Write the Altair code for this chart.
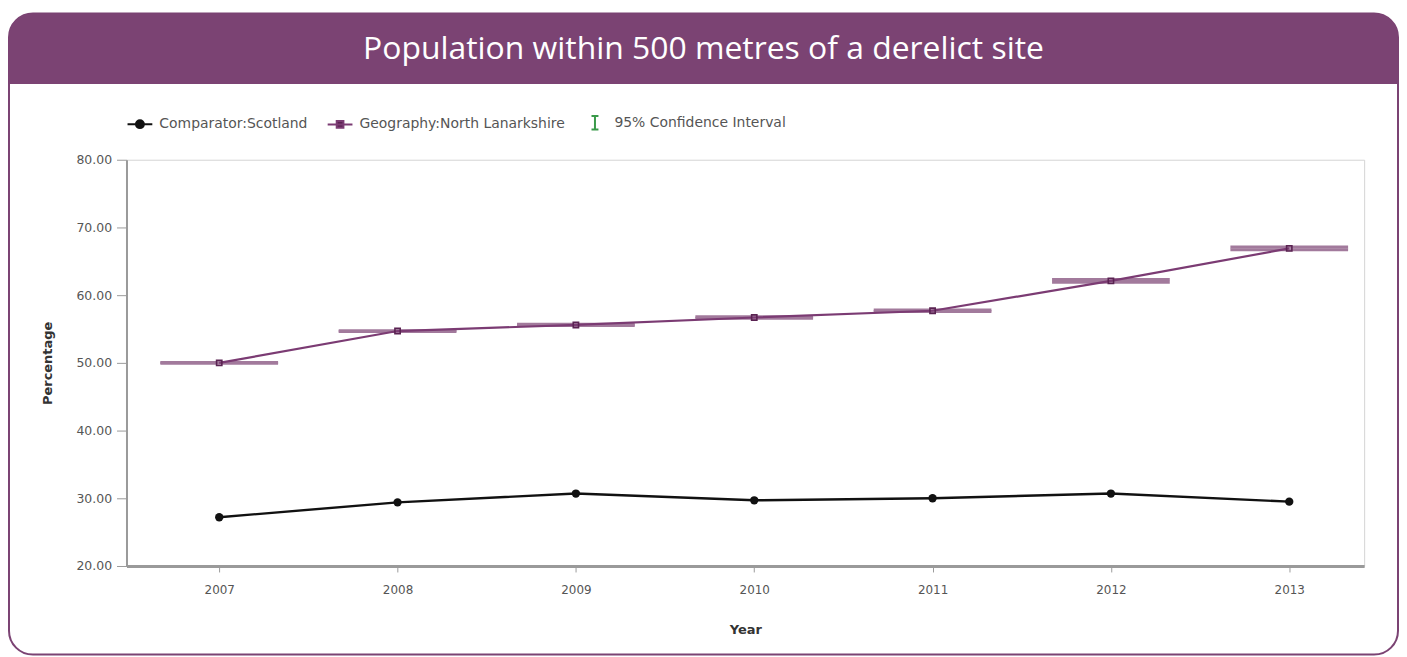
import altair as alt
import pandas as pd

# ---------------- data ----------------
years = [2007, 2008, 2009, 2010, 2011, 2012, 2013]
scotland = [27.2, 29.4, 30.7, 29.7, 30.0, 30.7, 29.5]
north_lanarkshire = [50.0, 54.7, 55.6, 56.7, 57.7, 62.1, 66.9]
nl_ci_low = [49.95, 54.65, 55.5, 56.6, 57.6, 61.9, 66.7]
nl_ci_high = [50.05, 54.75, 55.7, 56.8, 57.8, 62.3, 67.1]

legend_names = ["Comparator:Scotland", "Geography:North Lanarkshire", "95% Confidence Interval"]
y_ticks = [20, 30, 40, 50, 60, 70, 80]
TITLE = "Population within 500 metres of a derelict site"

# ---------------- styling ----------------
PURPLE = "#7b4373"
NL_LINE = "#7b3b73"
NL_MARK = "#5a2352"
CI_COL = "#a27a9c"
GREEN = "#3a9a4a"
FONT = "DejaVu Sans"
W, H = 1243, 408

scot_df = pd.DataFrame({"year": years, "value": scotland})
nl_df = pd.DataFrame({"year": years, "value": north_lanarkshire,
                      "lo": nl_ci_low, "hi": nl_ci_high})

xs = alt.Scale(domain=[2006.48, 2013.42], nice=False, zero=False)
ys = alt.Scale(domain=[20, 80], nice=False, zero=False)

xaxis = alt.Axis(values=years, format="d", title="Year", tickSize=6, labelPadding=13,
                 domainColor="#9a9a9a", domainWidth=3, tickColor="#9a9a9a",
                 labelColor="#555", labelFont=FONT, labelFontSize=12,
                 titleFont=FONT, titleFontSize=13, titleFontWeight="bold",
                 titleColor="#333", titlePadding=28, grid=False, zindex=1)
yaxis = alt.Axis(values=y_ticks, format=".2f", title="Percentage", tickSize=10, labelPadding=5,
                 domainColor="#9a9a9a", domainWidth=2, tickColor="#9a9a9a",
                 labelColor="#555", labelFont=FONT, labelFontSize=12.5,
                 titleFont=FONT, titleFontSize=13, titleFontWeight="bold",
                 titleColor="#333", titlePadding=22, grid=False, zindex=1)


def X(f):
    return alt.X(f, type="quantitative", scale=xs, axis=xaxis)


def Y(f):
    return alt.Y(f, type="quantitative", scale=ys, axis=yaxis)


one = pd.DataFrame({"k": [0]})

# ---------------- decoration: frame, banner, title ----------------
frame = alt.Chart(one).mark_rect(filled=False, stroke=PURPLE, strokeWidth=2,
                                 cornerRadius=24, clip=False).encode(
    x=alt.value(-118), x2=alt.value(W + 34), y=alt.value(-147), y2=alt.value(H + 89))
banner = alt.Chart(one).mark_rect(fill=PURPLE, cornerRadiusTopLeft=24,
                                  cornerRadiusTopRight=24, clip=False).encode(
    x=alt.value(-118), x2=alt.value(W + 34), y=alt.value(-147), y2=alt.value(-76))
title = alt.Chart(one).mark_text(text=TITLE, font="Open Sans", fontSize=32, color="white",
                                 align="center", baseline="middle").encode(
    x=alt.value((W + 34 - 118) / 2), y=alt.value(-111))

# ---------------- confidence interval caps ----------------
ci_base = alt.Chart(nl_df).transform_calculate(
    x1="datum.year - 0.33", x2="datum.year + 0.33")
ci_lo = ci_base.mark_rule(color=CI_COL, strokeWidth=3).encode(
    x=X("x1"), x2="x2:Q", y=Y("lo"))
ci_hi = ci_base.mark_rule(color=CI_COL, strokeWidth=3).encode(
    x=X("x1"), x2="x2:Q", y=Y("hi"))

# ---------------- series ----------------
nl_line = alt.Chart(nl_df).mark_line(color=NL_LINE, strokeWidth=2.2).encode(
    x=X("year"), y=Y("value"))
nl_pts = alt.Chart(nl_df).mark_point(shape="square", filled=False, color=NL_MARK,
                                     size=28, strokeWidth=1.6, opacity=1).encode(
    x=X("year"), y=Y("value"))
sc_line = alt.Chart(scot_df).mark_line(color="#111", strokeWidth=2.4).encode(
    x=X("year"), y=Y("value"))
sc_pts = alt.Chart(scot_df).mark_point(shape="circle", filled=True, color="#111",
                                       size=70, opacity=1).encode(
    x=X("year"), y=Y("value"))

# ---------------- legend (custom symbols) ----------------
legend_paths = [
    "M-1,0H1M0.32,0A0.32,0.32,0,1,1,-0.32,0A0.32,0.32,0,1,1,0.32,0Z",
    "M-1,0H1M-0.27,-0.27H0.27V0.27H-0.27Z",
    "M-0.28,-0.55H0.28M0,-0.55V0.55M-0.28,0.55H0.28",
]
LEG = alt.Legend(title=None, orient="none", legendX=0, legendY=-51, direction="horizontal",
                 symbolSize=620, symbolStrokeWidth=2, labelFont=FONT, labelFontSize=14,
                 labelColor="#555", labelLimit=400, columnPadding=16, labelOffset=6)
legend_layer = alt.Chart(pd.DataFrame({"series": legend_names})).transform_filter(
    "false").mark_point(opacity=1).encode(
    shape=alt.Shape("series:N", scale=alt.Scale(domain=legend_names, range=legend_paths), legend=LEG),
    fill=alt.Fill("series:N", scale=alt.Scale(domain=legend_names,
                                              range=["#111", NL_MARK, "transparent"]), legend=LEG),
    stroke=alt.Stroke("series:N", scale=alt.Scale(domain=legend_names,
                                                  range=["#111", NL_LINE, GREEN]), legend=LEG),
)

chart = alt.layer(
    frame, banner, title, ci_lo, ci_hi, nl_line, nl_pts, sc_line, sc_pts, legend_layer
).properties(
    width=W, height=H,
    padding={"left": 0, "top": 3, "right": 0, "bottom": 0},
).configure_view(stroke="#d4d4d4", fill="white")

chart.save("out.html", embed_options={"renderer": "svg", "actions": False})
